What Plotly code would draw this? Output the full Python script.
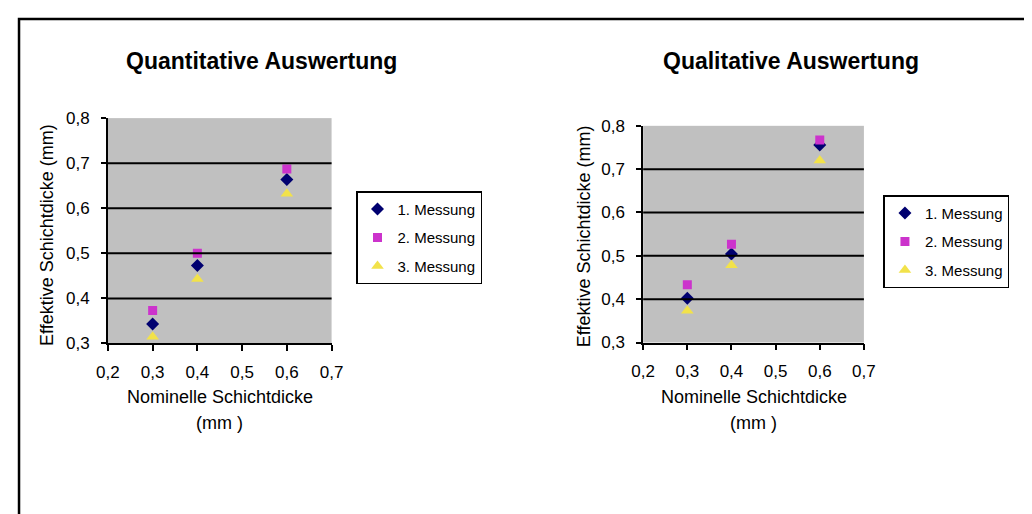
import plotly.graph_objects as go

W, H = 1032, 514
OFF = 8  # page body margin in the browser

# ---- data ----
nominal = [0.3, 0.4, 0.6]
series_names = ["1. Messung", "2. Messung", "3. Messung"]
quant_m1 = [0.343, 0.473, 0.664]
quant_m2 = [0.373, 0.500, 0.687]
quant_m3 = [0.315, 0.443, 0.632]
qual_m1 = [0.402, 0.504, 0.756]
qual_m2 = [0.433, 0.527, 0.767]
qual_m3 = [0.373, 0.478, 0.720]
x_ticks = [0.2, 0.3, 0.4, 0.5, 0.6, 0.7]
y_ticks = [0.3, 0.4, 0.5, 0.6, 0.7, 0.8]
grid_vals = [0.4, 0.5, 0.6, 0.7]
titles = ["Quantitative Auswertung", "Qualitative Auswertung"]
x_title_1 = "Nominelle Schichtdicke"
x_title_2 = "(mm )"
y_title = "Effektive Schichtdicke (mm)"

FONT = "Liberation Sans, Arial, sans-serif"
colors = ["#000070", "#CC33CC", "#F2E24A"]
symbols = ["diamond", "square", "triangle-up"]
msizes = [10, 9, 11]


def fx(p):
    return (p - OFF) / W


def fy(p):
    return 1 - (p - OFF) / H


fig = go.Figure()

panels = [
    dict(data=[quant_m1, quant_m2, quant_m3], xa="x", ya="y", legend="legend"),
    dict(data=[qual_m1, qual_m2, qual_m3], xa="x2", ya="y2", legend="legend2"),
]

for pi, p in enumerate(panels):
    for si, vals in enumerate(p["data"]):
        fig.add_trace(go.Scatter(
            x=nominal, y=vals, mode="markers", name=series_names[si],
            xaxis=p["xa"], yaxis=p["ya"], legend=p["legend"],
            legendgroup=f"g{pi}{si}",
            marker=dict(symbol=symbols[si], color=colors[si], size=msizes[si],
                        line=dict(width=0)),
            showlegend=True,
        ))

# plot area boxes in screen pixels: left, right, top, bottom
boxes = [(98, 327, 113, 347), (646, 872, 121, 346)]
ytitle_x = [35, 585]
ytitle_y = [234, 236]

axis_common = dict(
    showline=True, linecolor="black", linewidth=1.5,
    ticks="outside", tickcolor="black", tickwidth=1.5,
    showgrid=False, zeroline=False,
    tickfont=dict(family=FONT, size=17, color="black"),
    tickformat=".1f", fixedrange=True,
)

for i, (x0, x1, y0, y1) in enumerate(boxes):
    sfx = "" if i == 0 else "2"
    fig.update_layout(**{
        f"xaxis{sfx}": dict(axis_common, domain=[fx(x0), fx(x1)],
                            range=[0.2, 0.7], tickvals=x_ticks, ticklen=6,
                            ticklabelstandoff=6, anchor=f"y{sfx}"),
        f"yaxis{sfx}": dict(axis_common, domain=[fy(y1), fy(y0)],
                            range=[0.3, 0.8], tickvals=y_ticks, ticklen=5,
                            ticklabelstandoff=8, anchor=f"x{sfx}"),
    })

shapes = []
annotations = []
for i in range(2):
    sfx = "" if i == 0 else "2"
    x0, x1, y0, y1 = boxes[i]
    for g in grid_vals:
        shapes.append(dict(type="line", xref=f"x{sfx} domain", x0=0, x1=1,
                           yref=f"y{sfx}", y0=g, y1=g,
                           line=dict(color="black", width=2), layer="above"))
    annotations.append(dict(text=y_title, textangle=-90, showarrow=False,
                            xref="paper", x=fx(ytitle_x[i]), xanchor="center",
                            yref="paper", y=fy(ytitle_y[i]), yanchor="middle",
                            font=dict(family=FONT, size=18, color="black")))
    annotations.append(dict(text=x_title_1, showarrow=False,
                            xref=f"x{sfx} domain", x=0.5,
                            yref="paper", y=fy(403), yanchor="middle",
                            font=dict(family=FONT, size=18, color="black")))
    annotations.append(dict(text=x_title_2, showarrow=False,
                            xref=f"x{sfx} domain", x=0.5,
                            yref="paper", y=fy(430), yanchor="middle",
                            font=dict(family=FONT, size=18, color="black")))

title_pos = [(255, 54), (797, 54)]
for t, (tx, ty) in zip(titles, title_pos):
    annotations.append(dict(text=f"<b>{t}</b>", showarrow=False,
                            xref="paper", x=fx(tx), yref="paper", y=fy(ty),
                            xanchor="center", yanchor="middle",
                            font=dict(family=FONT, size=23, color="black")))

# outer frame (only top and left edges are visible)
shapes.append(dict(type="rect", xref="paper", yref="paper",
                   x0=fx(7), x1=1.02, y0=-0.02, y1=fy(10),
                   line=dict(color="black", width=2.5)))

legend_common = dict(
    bgcolor="white", bordercolor="black", borderwidth=1.5,
    font=dict(family=FONT, size=15, color="black"),
    xanchor="left", yanchor="top", tracegroupgap=6, itemwidth=30,
)

fig.update_layout(
    width=W, height=H,
    margin=dict(l=0, r=0, t=0, b=0),
    paper_bgcolor="white", plot_bgcolor="#C0C0C0",
    separators=",.",
    showlegend=True,
    legend=dict(legend_common, x=fx(352), y=fy(189)),
    legend2=dict(legend_common, x=fx(892), y=fy(193)),
    shapes=shapes, annotations=annotations,
)

fig.write_html("out.html")
